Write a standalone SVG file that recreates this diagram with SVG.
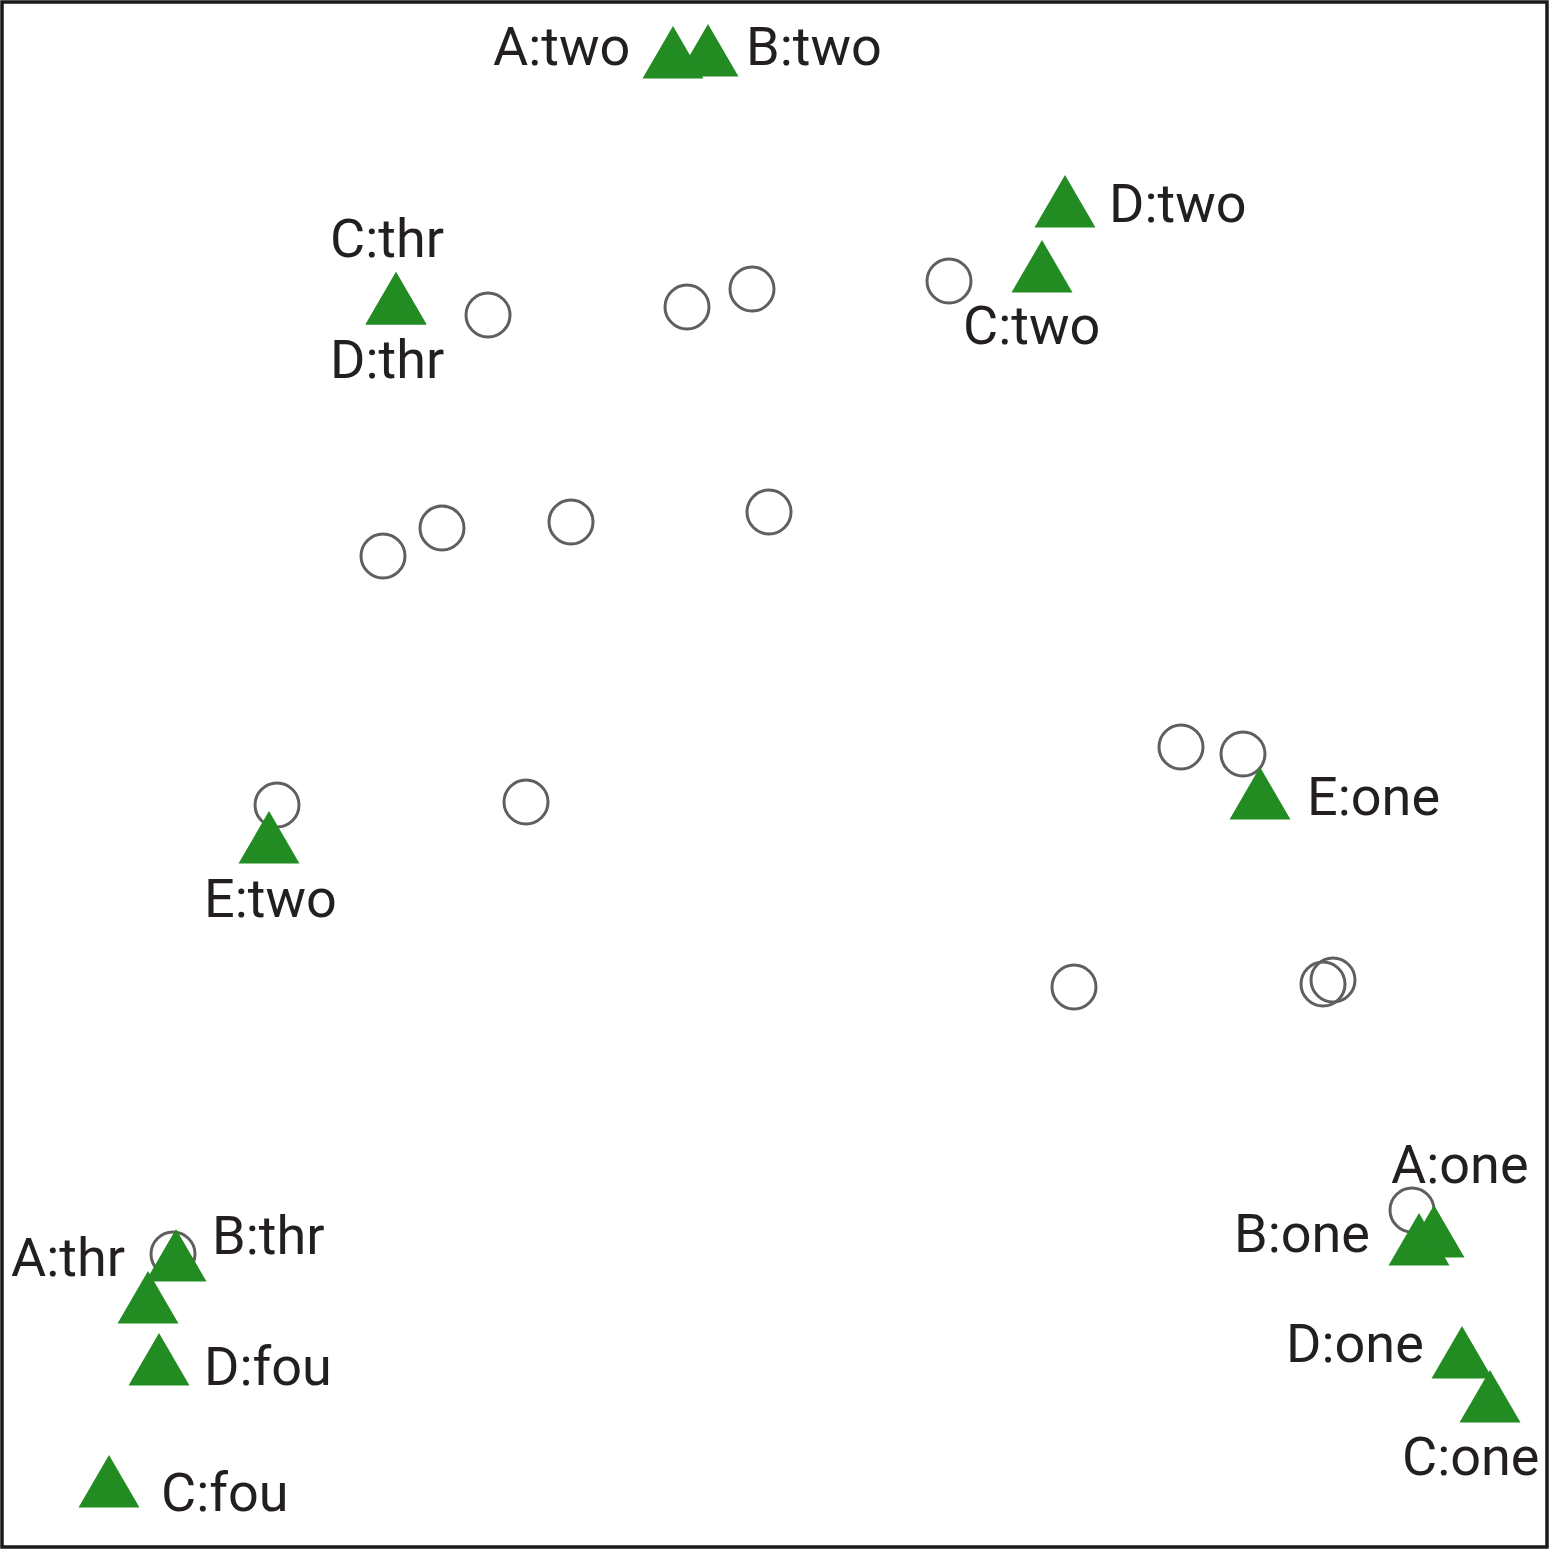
<svg xmlns="http://www.w3.org/2000/svg" xmlns:xlink="http://www.w3.org/1999/xlink" width="1549" height="1549" viewBox="0 0 1549 1549">
<style>
.frame{fill:#fff;stroke:#1a1a1a;stroke-width:3.5}
.pt{fill:none;stroke:#5f5f5f;stroke-width:3}
.tri{fill:#228B22}
.lbl{font-family:Roboto,"Liberation Sans",sans-serif;font-size:54px;fill:#231f20}
</style>
<defs>
<path id="tri" d="M0,0 L30.5,52.5 L-30.5,52.5 Z"/>
</defs>
<rect class="frame" x="2" y="2" width="1545" height="1545"/>
<g id="connectors"/>
<g id="points">
<circle class="pt" cx="488" cy="315" r="22"/>
<circle class="pt" cx="687" cy="307" r="22"/>
<circle class="pt" cx="752" cy="289" r="22"/>
<circle class="pt" cx="949" cy="281" r="22"/>
<circle class="pt" cx="383" cy="556" r="22"/>
<circle class="pt" cx="442" cy="528" r="22"/>
<circle class="pt" cx="571" cy="522" r="22"/>
<circle class="pt" cx="769" cy="512" r="22"/>
<circle class="pt" cx="277" cy="805" r="22"/>
<circle class="pt" cx="526" cy="802" r="22"/>
<circle class="pt" cx="1181" cy="747" r="22"/>
<circle class="pt" cx="1243" cy="754" r="22"/>
<circle class="pt" cx="1074" cy="987" r="22"/>
<circle class="pt" cx="1323" cy="984" r="22"/>
<circle class="pt" cx="1333" cy="980" r="22"/>
<circle class="pt" cx="1412" cy="1210" r="22"/>
<circle class="pt" cx="173" cy="1254" r="22"/>
</g>
<g id="A_two"><use class="tri" xlink:href="#tri" x="673" y="26"/><text class="lbl" x="493" y="65">A:two</text></g>
<g id="B_two"><use class="tri" xlink:href="#tri" x="708" y="24"/><text class="lbl" x="746" y="65">B:two</text></g>
<g id="D_two"><use class="tri" xlink:href="#tri" x="1065" y="175"/><text class="lbl" x="1109" y="222">D:two</text></g>
<g id="C_two"><use class="tri" xlink:href="#tri" x="1042" y="240"/><text class="lbl" x="963" y="344">C:two</text></g>
<g id="C_thr"><use class="tri" xlink:href="#tri" x="396" y="272"/><text class="lbl" x="330" y="257">C:thr</text></g>
<g id="D_thr"><use class="tri" xlink:href="#tri" x="396" y="272"/><text class="lbl" x="330" y="378">D:thr</text></g>
<g id="E_two"><use class="tri" xlink:href="#tri" x="269" y="811"/><text class="lbl" x="204" y="917">E:two</text></g>
<g id="E_one"><use class="tri" xlink:href="#tri" x="1260" y="767"/><text class="lbl" x="1307" y="815">E:one</text></g>
<g id="A_one"><use class="tri" xlink:href="#tri" x="1434" y="1205"/><text class="lbl" x="1391" y="1183">A:one</text></g>
<g id="B_one"><use class="tri" xlink:href="#tri" x="1419" y="1213"/><text class="lbl" x="1234" y="1252">B:one</text></g>
<g id="D_one"><use class="tri" xlink:href="#tri" x="1462" y="1326"/><text class="lbl" x="1286" y="1362">D:one</text></g>
<g id="C_one"><use class="tri" xlink:href="#tri" x="1490" y="1370"/><text class="lbl" x="1402" y="1475">C:one</text></g>
<g id="B_thr"><use class="tri" xlink:href="#tri" x="176" y="1229"/><text class="lbl" x="212" y="1254">B:thr</text></g>
<g id="A_thr"><use class="tri" xlink:href="#tri" x="148" y="1271"/><text class="lbl" x="11" y="1276">A:thr</text></g>
<g id="D_fou"><use class="tri" xlink:href="#tri" x="159" y="1333"/><text class="lbl" x="204" y="1385">D:fou</text></g>
<g id="C_fou"><use class="tri" xlink:href="#tri" x="109" y="1455"/><text class="lbl" x="161" y="1511">C:fou</text></g>
</svg>
